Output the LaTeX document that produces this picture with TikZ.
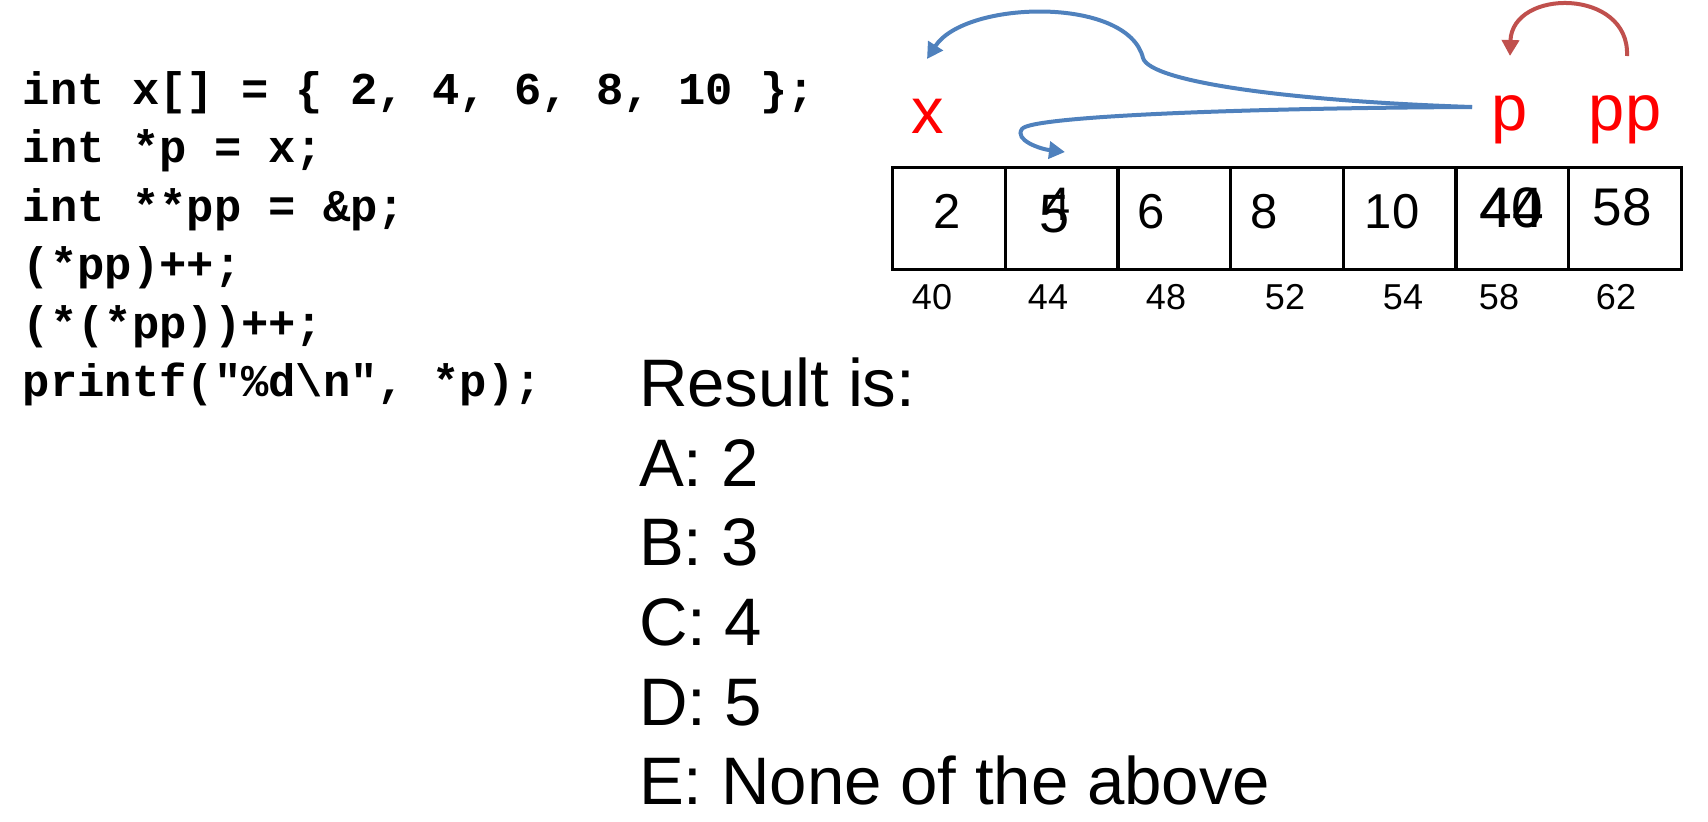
\documentclass[tikz,border=0pt]{standalone}
\usepackage{fontspec}
\setmainfont{Liberation Sans}
\newfontfamily\codefont{Liberation Mono}
\usetikzlibrary{arrows.meta}
\definecolor{ablue}{HTML}{4F81BD}
\definecolor{ared}{HTML}{C0504D}
\definecolor{lred}{HTML}{FF0000}
\newcommand\pxsize[1]{\fontsize{#1pt}{#1pt}\selectfont}
\begin{document}
\begin{tikzpicture}[x=0.5pt,y=-0.5pt,
  every node/.style={inner sep=0pt,outer sep=0pt},
  codeline/.style={anchor=base west,font=\codefont\bfseries\pxsize{22.75}},
  answer/.style={anchor=base west,font=\pxsize{33.6}},
  varname/.style={anchor=base,text=lred,font=\pxsize{32.5}},
  cellbox/.style={draw=black,line width=1.7pt,minimum width=56.35pt,minimum height=51pt},
  val/.style={anchor=base,font=\pxsize{24.5}},
  addr/.style={anchor=base,font=\pxsize{18}},
  bluearrow/.style={draw=ablue,line width=2pt,-{Triangle[length=8pt,width=8.5pt]}},
  redarrow/.style={draw=ared,line width=2pt,-{Triangle[length=8pt,width=8.5pt]}}]
\path[use as bounding box] (0,0) rectangle (1708,821);

% code
\node[codeline] (l1) at (23,104) {int x[] = \{ 2, 4, 6, 8, 10 \};};
\node[codeline] (l2) at (23,162.5) {int *p = x;};
\node[codeline] (l3) at (23,221) {int **pp = \&p;};
\node[codeline] (l4) at (23,279.5) {(*pp)++;};
\node[codeline] (l5) at (23,338) {(*(*pp))++;};
\node[codeline] (l6) at (23,396.5) {printf("\%d\textbackslash n", *p);};

% answers
\node[answer] (r0) at (639,406) {Result is:};
\node[answer] (ra) at (639,486) {A: 2};
\node[answer] (rb) at (639,565) {B: 3};
\node[answer] (rc) at (639,645) {C: 4};
\node[answer] (rd) at (639,725) {D: 5};
\node[answer] (re) at (639,804) {E: None of the above};

% memory cells
\node[cellbox] (m0) at (948.9,218.5) {};
\node[cellbox] (m1) at (1061.6,218.5) {};
\node[cellbox] (m2) at (1174.3,218.5) {};
\node[cellbox] (m3) at (1287.0,218.5) {};
\node[cellbox] (m4) at (1399.7,218.5) {};
\node[cellbox] (m5) at (1512.4,218.5) {};
\node[cellbox] (m6) at (1625.1,218.5) {};

% values
\node[val] (v0) at (947,228) {2};
\node[val,font=\pxsize{27}] (v1b) at (1055,232) {5};
\node[val,font=\pxsize{23.5}] (v1a) at (1058,220) {4};
\node[val] (v2) at (1151,228) {6};
\node[val] (v3) at (1264,228) {8};
\node[val] (v4) at (1392,228) {10};
\node[val,font=\pxsize{28.5}] (v5a) at (1511,227) {40};
\node[val,font=\pxsize{28.5}] (v5b) at (1512,227) {44};
\node[val,font=\pxsize{26.5}] (v6) at (1622,225) {58};

% addresses
\node[addr] (a0) at (932,309) {40};
\node[addr] (a1) at (1048,309) {44};
\node[addr] (a2) at (1166,309) {48};
\node[addr] (a3) at (1285,309) {52};
\node[addr] (a4) at (1403,309) {54};
\node[addr] (a5) at (1499,309) {58};
\node[addr] (a6) at (1616,309) {62};

% variable names
\node[varname] (x) at (928,133) {x};
\node[varname] (p) at (1510,130) {p};
\node[varname] (pp) at (1625,130) {pp};

% connector ends
\coordinate (pout) at (1472,107);
\coordinate (xin) at (927,59);
\coordinate (kink) at (1143,58);
\coordinate (hook) at (1022,129);
\coordinate (x1in) at (1065,152);
\coordinate (ppout) at (1627,56);
\coordinate (pin) at (1510,56);

% arrows
\draw[bluearrow] (pout) .. controls (1290,101) and (1150,82) .. (kink)
  .. controls (1128,-4) and (965,0) .. (xin);
\draw[bluearrow] (pout) .. controls (1250,108) and (1030,116) .. (hook)
  .. controls (1014,140) and (1040,149) .. (x1in);
\draw[redarrow] (ppout) .. controls (1630,-12) and (1512,-12) .. (pin);
\end{tikzpicture}
\end{document}
